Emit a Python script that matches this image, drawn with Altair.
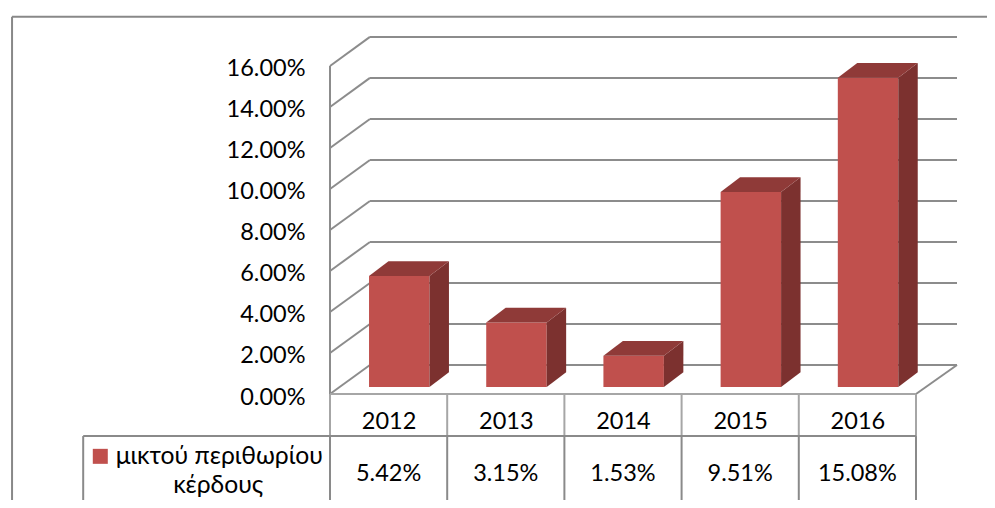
import altair as alt
import pandas as pd

YEARS = ["2012", "2013", "2014", "2015", "2016"]
VALUES = [5.42, 3.15, 1.53, 9.51, 15.08]
SERIES_LINES = ["μικτού περιθωρίου", "κέρδους"]
Y_TICKS = [0, 2, 4, 6, 8, 10, 12, 14, 16]

FONT = "Lato"
FS = 23.5
FS_HEAD = 24.7
GRID = "#8c8c8c"
FRONT, SIDE, TOP = "#c0504d", "#7c312f", "#8f3a38"

# data-space geometry: x in category widths, y in percentage points
XMAX, YMAX = 5.35, 17.46
WALL_DX, WALL_DY = 0.341, 1.415
BAR_L, BAR_W, BAR_DX, BAR_DY, BAR_BASE = 0.333, 0.516, 0.166, 0.72, 0.34
TABLE_LEFT, FRAME_LEFT, FRAME_TOP = -2.106, -2.713, 18.4
ROW1, BOTTOM = -2.05, -5.6
RIGHT_EDGE = 5.6
n = len(YEARS)

xs = alt.X("x:Q", title=None, scale=alt.Scale(domain=[0, XMAX], nice=False, zero=False),
           axis=alt.Axis(values=[i + 0.5 for i in range(n)], grid=False, domain=False, ticks=False,
                         labelExpr="[" + ",".join(f"'{y}'" for y in YEARS) + "][floor(datum.value)]",
                         labelFont=FONT, labelFontSize=FS, labelColor="black", labelPadding=15, labelFlush=False))
ys = alt.Y("y:Q", title=None, scale=alt.Scale(domain=[0, YMAX], nice=False, zero=False),
           axis=alt.Axis(values=Y_TICKS, grid=False, domain=False, ticks=False,
                         labelExpr="format(datum.value,'.2f')+'%'",
                         labelFont=FONT, labelFontSize=FS, labelColor="black", labelPadding=25, labelOffset=3))


def seg(rows, width, color=GRID):
    df = pd.DataFrame(rows, columns=["x", "y", "x2", "y2"])
    return alt.Chart(df).mark_rule(strokeWidth=width, color=color).encode(
        x=xs, y=ys, x2="x2:Q", y2="y2:Q")


grid_rows = []
for t in Y_TICKS:
    grid_rows.append((0, t, WALL_DX, t + WALL_DY))
    grid_rows.append((WALL_DX, t + WALL_DY, XMAX, t + WALL_DY))
grid_rows.append((0, 0, 0, Y_TICKS[-1]))
grid_rows.append((XMAX, WALL_DY, n, 0))

frame = seg([(FRAME_LEFT, FRAME_TOP, RIGHT_EDGE + 0.5, FRAME_TOP),
             (FRAME_LEFT, FRAME_TOP, FRAME_LEFT, BOTTOM)], 2, "#888888")
grid = seg(grid_rows, 2)
head = seg([(0, 0, n, 0)] + [(i, 0, i, ROW1) for i in range(n + 1)], 2, "#a6a6a6")
table = seg([(TABLE_LEFT, ROW1, n, ROW1), (TABLE_LEFT, ROW1, TABLE_LEFT, BOTTOM)]
            + [(i, ROW1, i, BOTTOM) for i in range(n + 1)], 2, "#8a8a8a")

fronts, sides, tops = [], [], []
for i, (yr, v) in enumerate(zip(YEARS, VALUES)):
    l, r = i + BAR_L, i + BAR_L + BAR_W
    b, t = BAR_BASE, BAR_BASE + v
    fronts.append(dict(x=l, x2=r, y=b, y2=t))
    sides += [dict(yr=yr, x=r, y=t, y2=b), dict(yr=yr, x=r + BAR_DX, y=t + BAR_DY, y2=b + BAR_DY)]
    tops += [dict(yr=yr, x=l, y=t, y2=t), dict(yr=yr, x=l + BAR_DX, y=t + BAR_DY, y2=t),
             dict(yr=yr, x=r, y=t + BAR_DY, y2=t), dict(yr=yr, x=r + BAR_DX, y=t + BAR_DY, y2=t + BAR_DY)]

front = alt.Chart(pd.DataFrame(fronts)).mark_rect(color=FRONT).encode(x=xs, x2="x2:Q", y=ys, y2="y2:Q")
side = alt.Chart(pd.DataFrame(sides)).mark_area(color=SIDE, opacity=1).encode(x=xs, y=ys, y2="y2:Q", detail="yr:N")
top = alt.Chart(pd.DataFrame(tops)).mark_area(color=TOP, opacity=1).encode(x=xs, y=ys, y2="y2:Q", detail="yr:N")

cells = pd.DataFrame({"x": [i + 0.5 for i in range(n)], "y": [-3.9] * n,
                      "t": [f"{v:.2f}%" for v in VALUES]})
cell_txt = alt.Chart(cells).mark_text(font=FONT, fontSize=FS, color="black").encode(x=xs, y=ys, text="t:N")

head_df = pd.DataFrame({"x": [-0.945, -0.954], "y": [-3.07, -4.5], "t": SERIES_LINES})
head_txt = alt.Chart(head_df).mark_text(font=FONT, fontSize=FS_HEAD, color="black").encode(x=xs, y=ys, text="t:N")

swatch = alt.Chart(pd.DataFrame({"x": [-1.96], "y": [-3.04]})).mark_square(
    size=225, color=FRONT, opacity=1, filled=True).encode(x=xs, y=ys)

chart = alt.layer(frame, grid, head, table, front, side, top, cell_txt, head_txt, swatch).properties(
    width=627, height=358,
    autosize=alt.AutoSizeParams(type="none"),
    padding={"left": 322, "top": 28, "right": 30, "bottom": 106},
    background="white",
).configure_view(stroke=None)

chart.save("out.html", embed_options={"renderer": "svg", "actions": False})
